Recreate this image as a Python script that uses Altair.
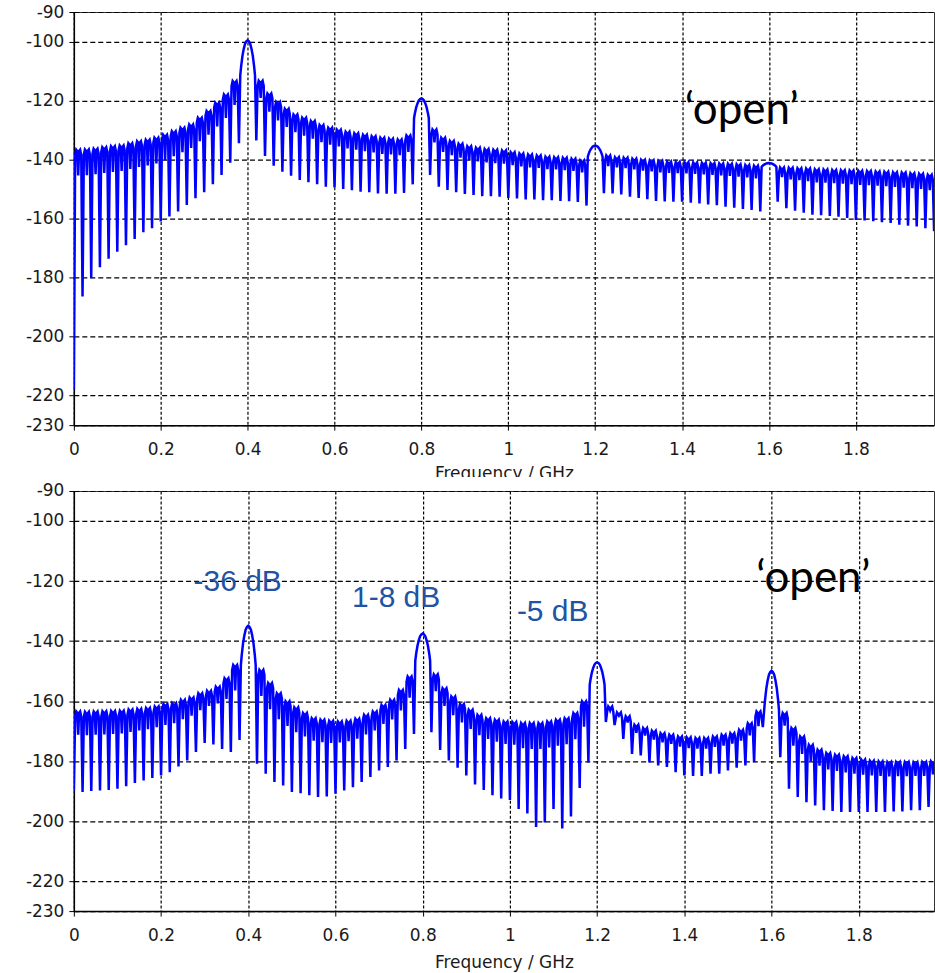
import altair as alt
import pandas as pd

# Comb spacing of the spectrum (GHz)
STEP = 0.02

x_ticks = [0, 0.2, 0.4, 0.6, 0.8, 1.0, 1.2, 1.4, 1.6, 1.8]
y_ticks = [-90, -100, -120, -140, -160, -180, -200, -220, -230]

# Upper spectrum: crest level of each 20 MHz ripple and the notch level at its start (dB)
upper_crest = [
    -136.4, -136.3, -136.0, -135.5, -135.2, -134.9, -134.2, -133.5, -133.0, -132.3,
    -131.3, -130.1, -128.9, -127.8, -125.5, -123.2, -120.4, -117.6, -113.1, None,
    None, -113.0, -117.3, -120.2, -122.5, -124.4, -125.5, -126.6, -128.0, -128.9,
    -129.6, -130.3, -130.8, -131.3, -131.8, -132.3, -132.6, -132.9, -131.5, None,
    None, -129.5, -132.3, -133.4, -134.3, -135.2, -135.7, -136.1, -136.4, -136.6,
    -137.2, -137.6, -138.0, -138.3, -138.7, -138.9, -139.1, -139.4, -140.0, None,
    None, -138.3, -138.9, -139.1, -139.4, -139.8, -140.0, -140.2, -140.4, -140.5,
    -140.6, -140.7, -140.8, -140.9, -141.0, -141.1, -141.3, -141.5, -141.8, None,
    None, -142.4, -142.5, -142.6, -142.7, -143.0, -143.1, -143.2, -143.3, -143.4,
    -143.5, -143.6, -143.7, -143.8, -144.0, -144.1, -144.3, -144.5, -144.8, -145.2,
]
upper_dip = [
    -218.0, -186.4, -180.2, -176.5, -173.6, -171.2, -169.0, -166.9, -164.6, -163.3,
    -161.0, -159.3, -157.6, -155.4, -153.1, -151.1, -148.4, -145.2, -141.1, -134.5,
    None, -133.5, -138.8, -142.1, -144.1, -145.5, -146.9, -147.7, -148.4, -149.2,
    -149.5, -150.0, -150.4, -150.9, -151.1, -151.5, -151.6, -151.6, -151.3, -148.4,
    None, -145.2, -149.2, -150.3, -151.1, -151.7, -152.0, -152.4, -152.4, -152.6,
    -153.0, -153.2, -153.5, -153.5, -153.8, -153.8, -154.0, -154.1, -154.4, -155.6,
    None, -151.4, -151.5, -151.8, -152.6, -153.0, -153.4, -154.0, -154.2, -154.3,
    -154.3, -154.6, -154.9, -155.2, -155.5, -156.0, -156.3, -156.7, -157.1, -157.6,
    None, -154.3, -156.5, -157.3, -158.0, -158.7, -158.9, -159.1, -159.4, -159.8,
    -160.5, -160.6, -160.9, -161.2, -161.5, -162.1, -162.4, -162.7, -163.3, -164.3,
]
upper_lobe_f = [0.4, 0.8, 1.2, 1.6]
upper_lobe_peak = [-99.6, -119.3, -135.3, -141.2]
upper_lobe_edge = [-111.5, -126.0, -139.0, -142.5]

# Lower spectrum
lower_crest = [
    -163.2, -163.3, -163.2, -163.1, -163.0, -162.9, -162.5, -162.3, -162.0, -161.5,
    -160.7, -160.4, -159.3, -158.5, -157.1, -156.3, -154.9, -152.1, -147.7, None,
    None, -149.3, -153.7, -157.1, -159.8, -161.8, -163.7, -165.4, -165.9, -166.3,
    -166.5, -166.3, -165.6, -164.3, -163.2, -161.0, -159.3, -156.0, -151.5, None,
    None, -150.8, -155.4, -158.2, -160.7, -162.6, -164.3, -165.4, -165.9, -166.5,
    -166.7, -167.0, -167.0, -167.0, -166.5, -165.9, -165.4, -163.7, -159.8, None,
    None, -161.5, -163.5, -164.8, -167.6, -168.7, -169.6, -170.4, -170.9, -171.5,
    -171.8, -172.0, -172.0, -171.5, -170.9, -170.4, -169.3, -167.1, -163.2, None,
    None, -163.7, -168.7, -171.5, -174.3, -175.9, -177.0, -177.6, -178.1, -178.7,
    -179.2, -179.6, -179.8, -180.0, -180.0, -180.0, -180.1, -180.0, -179.8, -179.6,
]
lower_dip = [
    -189.8, -190.3, -190.0, -189.8, -189.6, -189.2, -188.4, -187.3, -186.5, -185.6,
    -184.8, -183.7, -181.8, -179.8, -177.0, -174.0, -174.5, -176.0, -177.0, -173.0,
    None, -180.9, -184.2, -187.0, -188.1, -190.3, -190.7, -191.4, -192.0, -191.8,
    -190.9, -189.8, -188.7, -187.0, -185.3, -183.1, -182.0, -179.8, -176.0, -171.0,
    None, -170.4, -176.3, -179.8, -182.2, -184.8, -187.8, -189.6, -191.4, -192.5,
    -193.0, -196.0, -197.5, -202.0, -200.5, -196.0, -202.5, -198.5, -189.0, -180.5,
    None, -167.0, -168.0, -172.6, -177.6, -178.1, -180.5, -181.5, -182.0, -183.7,
    -184.8, -185.0, -185.0, -184.2, -184.2, -183.1, -182.2, -181.5, -180.4, -168.7,
    None, -178.7, -189.2, -192.0, -193.7, -194.8, -196.4, -196.6, -197.0, -197.0,
    -197.0, -197.0, -197.0, -197.0, -196.8, -196.8, -196.4, -196.4, -195.3, -195.0,
]
lower_lobe_f = [0.4, 0.8, 1.2, 1.6]
lower_lobe_peak = [-134.9, -137.5, -147.1, -149.9]
lower_lobe_edge = [-148.0, -146.5, -154.5, -163.0]

# Annotations
open_label = ["\u2018open\u2019"]
upper_open_f, upper_open_db = [1.406], [-127.8]
lower_open_f, lower_open_db = [1.565], [-123.8]
level_labels = ["-36 dB", "1-8 dB", "-5 dB"]
level_f = [0.2746, 0.638, 1.016]
level_db = [-123.3, -128.8, -133.2]

# Shape of a main lobe and of one ripple between two notches
LOBE_DX = [-0.017, -0.015, -0.012, -0.009, -0.006, -0.003, 0.0,
           0.003, 0.006, 0.009, 0.012, 0.015, 0.017]
LOBE_FALL = [1.0, 0.75, 0.45, 0.25, 0.1, 0.03, 0.0,
             0.03, 0.1, 0.25, 0.45, 0.75, 1.0]
CREST_DX = [0.003, 0.0055, 0.008, 0.010, 0.012, 0.0145, 0.017]
CREST_DROP = [2.0, 0.3, 0.8, None, 0.8, 0.3, 2.0]


def trace(crest, dip, lobe_f, lobe_peak, lobe_edge):
    lobes = {round(f / STEP): (p, e) for f, p, e in zip(lobe_f, lobe_peak, lobe_edge)}
    rows = []
    for k in range(len(crest)):
        f0 = k * STEP
        if k in lobes:
            p, e = lobes[k]
            rows += [(f0 + dx, p + (e - p) * w) for dx, w in zip(LOBE_DX, LOBE_FALL)]
            continue
        rows.append((f0, dip[k]))
        if k + 1 in lobes:
            continue
        c = crest[k]
        notch = c - min(9.0, 0.3 * (c - dip[k]))
        for dx, d in zip(CREST_DX, CREST_DROP):
            rows.append((f0 + dx, notch if d is None else c - d))
    return pd.DataFrame({
        "i": list(range(len(rows))),
        "f": [r[0] for r in rows],
        "db": [r[1] for r in rows],
    })


def encodings(x_max, title_pad):
    x = alt.X("f:Q",
              scale=alt.Scale(domain=[0, x_max], nice=False, zero=False),
              axis=alt.Axis(values=x_ticks, format="~g", title="Frequency / GHz",
                            gridDash=[3, 2], labelFlush=False, labelOverlap=False,
                            labelPadding=11, titlePadding=title_pad))
    y = alt.Y("db:Q",
              scale=alt.Scale(domain=[-230, -90], nice=False, zero=False),
              axis=alt.Axis(values=y_ticks, title=None, gridDash=[5, 3],
                            labelExpr="'' + datum.value",
                            labelFlush=False, labelOverlap=False, labelPadding=5))
    return x, y


def panel(df, x_max, height, title_pad, open_f, open_db, with_levels):
    x, y = encodings(x_max, title_pad)
    line = alt.Chart(df).mark_line(color="#0000ff", strokeWidth=2.5, clip=True).encode(
        x=x, y=y, order="i:Q")
    open_text = alt.Chart(pd.DataFrame({"t": open_label, "f": open_f, "db": open_db})).mark_text(
        align="left", baseline="alphabetic", font="Lato", fontSize=44, color="#000000"
    ).encode(x="f:Q", y="db:Q", text="t:N")
    layers = [line, open_text]
    if with_levels:
        levels = alt.Chart(pd.DataFrame({"t": level_labels, "f": level_f, "db": level_db})).mark_text(
            align="left", baseline="alphabetic", font="Liberation Sans", fontSize=30,
            color="#2152a3"
        ).encode(x="f:Q", y="db:Q", text="t:N")
        # white strip above the lower plot, trimming the upper axis title
        strip = alt.Chart(pd.DataFrame({"a": [0]})).mark_rect(color="white").encode(
            x=alt.value(230), x2=alt.value(630), y=alt.value(-14), y2=alt.value(-1))
        layers += [levels, strip]
    return alt.layer(*layers).properties(width=862, height=height)


upper = panel(trace(upper_crest, upper_dip, upper_lobe_f, upper_lobe_peak, upper_lobe_edge),
              1.9798, 414, 8, upper_open_f, upper_open_db, False)
lower = panel(trace(lower_crest, lower_dip, lower_lobe_f, lower_lobe_peak, lower_lobe_edge),
              1.9725, 421, 12, lower_open_f, lower_open_db, True)

chart = alt.vconcat(upper, lower, spacing=66, bounds="flush").properties(
    padding={"left": 24, "top": 1, "right": 0, "bottom": 0}
).configure_view(
    stroke="#333333", strokeWidth=1
).configure_axis(
    domainColor="#000000", domainWidth=1.5, tickColor="#000000", tickSize=5,
    labelFont="DejaVu Sans", labelFontSize=17, labelColor="#1a1a1a",
    titleFont="DejaVu Sans", titleFontSize=17, titleFontWeight="normal", titleColor="#1a1a1a",
    gridColor="#000000", gridWidth=1.2, gridOpacity=1,
)

chart.save("out.html", embed_options={"renderer": "svg", "actions": False})
